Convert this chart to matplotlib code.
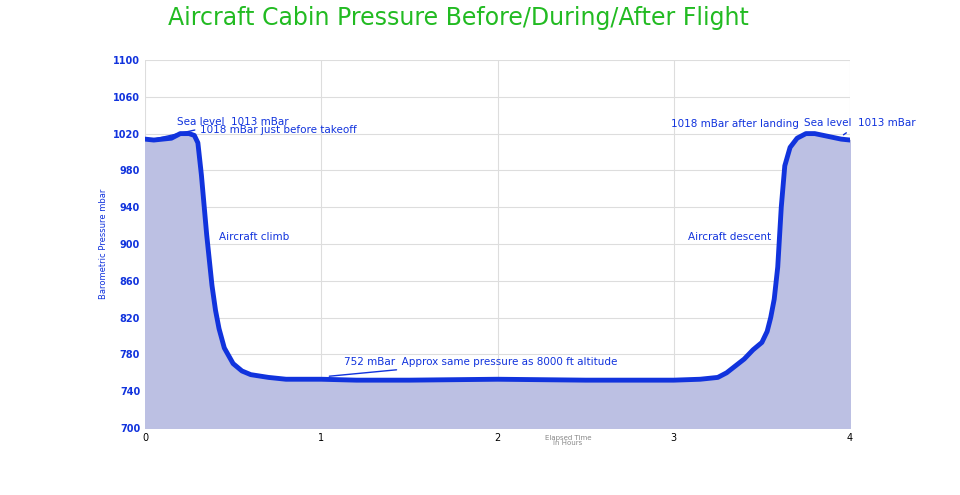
import matplotlib
matplotlib.use("Agg")
import matplotlib.pyplot as plt

hours = [0, 0.05, 0.1, 0.15, 0.2, 0.25, 0.28, 0.3, 0.32, 0.35, 0.38, 0.4, 0.42, 0.45, 0.5, 0.55, 0.6, 0.7, 0.8, 1.0, 1.2, 1.5, 2.0, 2.5, 3.0, 3.15, 3.25, 3.3, 3.4, 3.45, 3.5, 3.53, 3.55, 3.57, 3.59, 3.61, 3.63, 3.66, 3.7, 3.75, 3.8, 3.85, 3.9, 3.95, 4.0]
pressure = [1014, 1013, 1014, 1015, 1020, 1020, 1018, 1010, 975, 910, 855, 828, 808, 787, 770, 762, 758, 755, 753, 753, 752, 752, 753, 752, 752, 753, 755, 760, 775, 785, 793, 805, 820, 840, 875, 940, 985, 1005, 1015, 1020, 1020, 1018, 1016, 1014, 1013]

blue = "#1133dd"
fig = plt.figure(figsize=(9.6, 4.95), dpi=100)
ax = fig.add_axes([145/960, 1-428/495, 705/960, 368/495])
ax.fill_between(hours, 700, pressure, color="#bcc0e3", zorder=1)
ax.plot(hours, pressure, color=blue, lw=3.5, zorder=3)
ax.set_xlim(0, 4)
ax.set_ylim(700, 1100)
ax.set_xticks([0, 1, 2, 3, 4])
ax.set_yticks(range(700, 1101, 40))
ax.grid(color="#dddddd", lw=0.8, zorder=0)
ax.set_axisbelow(True)
for s in ax.spines.values():
    s.set_visible(False)
ax.tick_params(length=0, labelsize=7)
for t in ax.get_yticklabels():
    t.set_color(blue)
    t.set_fontweight("bold")
ax.set_ylabel("Barometric Pressure mbar", color=blue, fontsize=6)
ax.text(2.4, -0.02, "Elapsed Time\nin Hours", transform=ax.get_xaxis_transform(), ha="center", va="top", fontsize=5, color="#888888", linespacing=0.8)
fig.text(0.478, 0.963, "Aircraft Cabin Pressure Before/During/After Flight", color="#22bb22", fontsize=17, ha="center", va="center")

kw = dict(color=blue, fontsize=7.5)
ax.annotate("Sea level  1013 mBar", xy=(0.05, 1014), xytext=(0.18, 1033), ha="left", va="center", arrowprops=dict(arrowstyle="-", color=blue, lw=1), **kw)
ax.text(0.31, 1018, "1018 mBar just before takeoff", va="bottom", ha="left", **kw)
ax.text(0.42, 902, "Aircraft climb", va="bottom", **kw)
ax.annotate("752 mBar  Approx same pressure as 8000 ft altitude", xy=(1.03, 756), xytext=(1.13, 772), va="center", arrowprops=dict(arrowstyle="-", color=blue, lw=1), **kw)
ax.text(3.08, 902, "Aircraft descent", va="bottom", **kw)
ax.text(3.71, 1025, "1018 mBar after landing", va="bottom", ha="right", **kw)
ax.annotate("Sea level  1013 mBar", xy=(3.95, 1017), xytext=(3.74, 1031), va="center", ha="left", arrowprops=dict(arrowstyle="-", color=blue, lw=1), **kw)
fig.savefig("out.png", dpi=100)
